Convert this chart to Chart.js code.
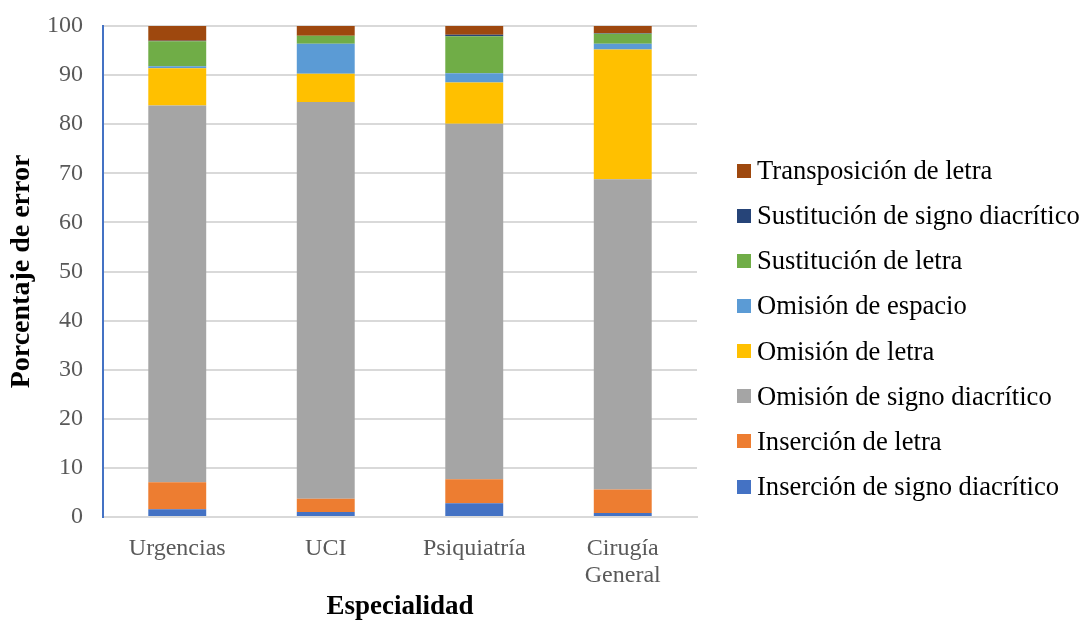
<!DOCTYPE html>
<html>
<head>
<meta charset="utf-8">
<script src="https://cdn.jsdelivr.net/npm/chart.js@4"></script>
<style>
  html, body { margin: 0; padding: 0; background: #fff; }
  #wrap { position: relative; width: 1082px; height: 623px; }
  #leyenda { position: absolute; left: 737px; top: 148px; font-family: 'Liberation Serif', 'Times New Roman', serif; font-size: 26.6px; color: #000; }
  #leyenda .item { height: 45.15px; display: flex; align-items: center; white-space: nowrap; }
  #leyenda .caja { width: 14px; height: 14px; margin-right: 6px; flex: none; }
</style>
</head>
<body>
<div id="wrap">
  <canvas id="erroresChart" width="1082" height="623"></canvas>
  <div id="leyenda"></div>
</div>
<script>
// especialidades (eje X)
const especialidades = ['Urgencias', 'UCI', 'Psiquiatría', ['Cirugía', 'General']];

// porcentaje de cada tipo de error por especialidad
const insercionSigno = [1.6, 1.0, 2.8, 0.8];
const insercionLetra = [5.5, 2.7, 4.9, 4.8];
const omisionSigno = [76.7, 80.8, 72.4, 63.2];
const omisionLetra = [7.6, 5.8, 8.4, 26.4];
const omisionEspacio = [0.4, 6.1, 1.9, 1.2];
const sustitucionLetra = [5.1, 1.6, 7.5, 2.0];
const sustitucionSigno = [0.1, 0.0, 0.3, 0.1];
const transposicion = [3.0, 2.0, 1.8, 1.5];

const yTicks = [0, 10, 20, 30, 40, 50, 60, 70, 80, 90, 100];

const serif = "'Liberation Serif', 'Times New Roman', serif";

function serie(label, data, color) {
    return { label: label, data: data, backgroundColor: color, borderWidth: 0,
             barPercentage: 0.39, categoryPercentage: 1.0 };
}

const ctx = document.getElementById('erroresChart').getContext('2d');
const chart = new Chart(ctx, {
    type: 'bar',
    data: {
        labels: especialidades,
        datasets: [
            serie('Inserción de signo diacrítico', insercionSigno, '#4472C4'),
            serie('Inserción de letra', insercionLetra, '#ED7D31'),
            serie('Omisión de signo diacrítico', omisionSigno, '#A5A5A5'),
            serie('Omisión de letra', omisionLetra, '#FFC000'),
            serie('Omisión de espacio', omisionEspacio, '#5B9BD5'),
            serie('Sustitución de letra', sustitucionLetra, '#70AD47'),
            serie('Sustitución de signo diacrítico', sustitucionSigno, '#264478'),
            serie('Transposición de letra', transposicion, '#9E480E')
        ]
    },
    options: {
        responsive: false,
        animation: false,
        layout: { padding: { top: 0, left: 0, right: 385, bottom: 0 } },
        plugins: {
            tooltip: { enabled: false },
            legend: { display: false }
        },
        scales: {
            x: {
                stacked: true,
                grid: { display: false, drawTicks: false },
                border: { color: '#D9D9D9', width: 2 },
                ticks: { color: '#595959', padding: 19, font: { family: serif, size: 24, lineHeight: 1.1 } },
                title: {
                    display: true, text: 'Especialidad', color: '#000',
                    font: { family: serif, size: 27, weight: 'bold' },
                    padding: { top: 6, bottom: 0 }
                },
                afterFit: s => { s.height = 106; }
            },
            y: {
                stacked: true,
                min: 0,
                max: 100,
                afterBuildTicks: s => { s.ticks = yTicks.map(v => ({ value: v })); },
                grid: { color: '#D9D9D9', lineWidth: 2, drawTicks: false },
                border: { color: '#4472C4', width: 2 },
                ticks: { color: '#595959', padding: 20, font: { family: serif, size: 24 } },
                title: {
                    display: true, text: 'Porcentaje de error', color: '#000',
                    font: { family: serif, size: 28, weight: 'bold' },
                    padding: { top: 5, bottom: 8 }
                },
                afterFit: s => { s.width = 103; s.paddingTop = 26; s.paddingBottom = 0; }
            }
        }
    }
});

// leyenda en HTML, de arriba abajo en el orden inverso de las series
const leyenda = document.getElementById('leyenda');
chart.data.datasets.slice().reverse().forEach(ds => {
    const item = document.createElement('div');
    item.className = 'item';
    const caja = document.createElement('span');
    caja.className = 'caja';
    caja.style.background = ds.backgroundColor;
    const texto = document.createElement('span');
    texto.textContent = ds.label;
    item.appendChild(caja);
    item.appendChild(texto);
    leyenda.appendChild(item);
});
</script>
</body>
</html>
